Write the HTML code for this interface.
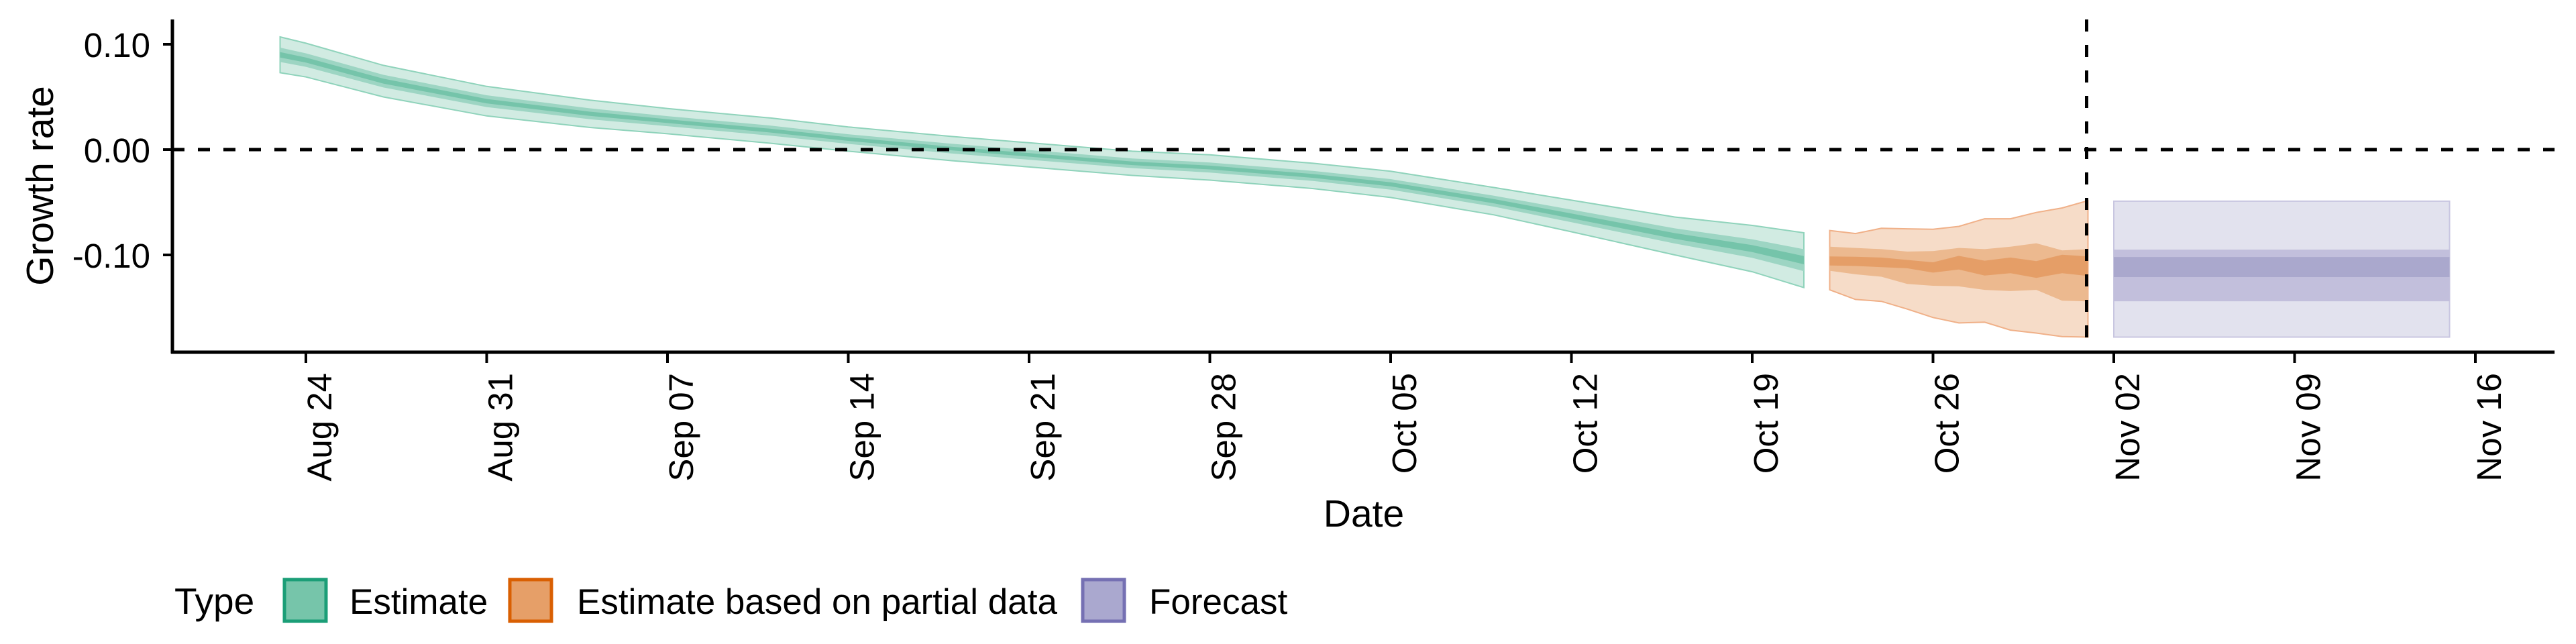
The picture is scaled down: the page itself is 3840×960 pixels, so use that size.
<!DOCTYPE html>
<html><head><meta charset="utf-8"><style>
html,body{margin:0;padding:0;background:#fff;}
svg{display:block;font-family:"Liberation Sans",sans-serif;}
</style></head><body>
<svg id="chart" width="3840" height="960" viewBox="0 0 3840 960" xmlns="http://www.w3.org/2000/svg">
<g id="bands"></g>
<g id="axes"></g>
<g>
  <text x="260" y="915" font-size="55">Type</text>
  <g>
    <rect x="424" y="864" width="62" height="62" fill="#76c5aa" stroke="#1b9e77" stroke-width="5"/>
    <text x="521" y="915" font-size="53">Estimate</text>
  </g>
  <g>
    <rect x="760" y="864" width="62" height="62" fill="#e69f68" stroke="#d95f02" stroke-width="5"/>
    <text x="860" y="915" font-size="53">Estimate based on partial data</text>
  </g>
  <g>
    <rect x="1614" y="864" width="62" height="62" fill="#aaa8cf" stroke="#7570b3" stroke-width="5"/>
    <text x="1713" y="915" font-size="53">Forecast</text>
  </g>
</g>
</svg>
<script>
// ---- data ----
const yTicks = [0.10, 0.00, -0.10];
const yTickLabels = ["0.10", "0.00", "-0.10"];
const xTickDays = [0,7,14,21,28,35,42,49,56,63,70,77,84];
const xTickLabels = ["Aug 24","Aug 31","Sep 07","Sep 14","Sep 21","Sep 28","Oct 05","Oct 12","Oct 19","Oct 26","Nov 02","Nov 09","Nov 16"];
// Estimate (days from Aug 24)
const estDays = [-1,0,3,7,11,14,18,21,25,28,32,35,39,42,46,49,53,56,58];
const estMedian = [0.090,0.085,0.065,0.046,0.034,0.027,0.018,0.010,0.001,-0.005,-0.013,-0.017,-0.025,-0.033,-0.049,-0.063,-0.082,-0.094,-0.105];
const estHalf90 = [0.017,0.016,0.015,0.014,0.013,0.012,0.012,0.0115,0.0115,0.0115,0.0115,0.012,0.012,0.0125,0.013,0.015,0.018,0.022,0.026];
const estHalf50 = [0.0068,0.0064,0.006,0.0056,0.0052,0.0048,0.0048,0.0046,0.0046,0.0046,0.0046,0.0048,0.0048,0.005,0.0052,0.006,0.0072,0.0088,0.0104];
const estHalf20 = [0.0026,0.0024,0.0023,0.0021,0.002,0.0018,0.0018,0.0017,0.0017,0.0017,0.0017,0.0018,0.0018,0.0019,0.002,0.0023,0.0027,0.0033,0.0039];
// Estimate based on partial data
const partDays = [59,60,61,62,63,64,65,66,67,68,69];
const partUpper90 = [-0.0768,-0.0797,-0.0747,-0.0752,-0.0757,-0.0729,-0.0657,-0.0657,-0.0597,-0.0554,-0.0485];
const partLower90 = [-0.1332,-0.1423,-0.1441,-0.1514,-0.1594,-0.1646,-0.1639,-0.1714,-0.1742,-0.1776,-0.1780];
const partUpper50 = [-0.0922,-0.0934,-0.0945,-0.0968,-0.0964,-0.0934,-0.0945,-0.0922,-0.0889,-0.0957,-0.0945];
const partLower50 = [-0.1150,-0.1184,-0.1207,-0.1275,-0.1293,-0.1298,-0.1332,-0.1343,-0.1332,-0.1435,-0.1441];
const partUpper20 = [-0.1014,-0.1018,-0.1025,-0.1048,-0.1070,-0.1009,-0.1055,-0.1025,-0.1059,-0.0998,-0.1014];
const partLower20 = [-0.1100,-0.1105,-0.1116,-0.1127,-0.1168,-0.1139,-0.1196,-0.1173,-0.1218,-0.1173,-0.1200];
// Forecast
const fcDays = [70,83];
const fcUpper90 = [-0.049,-0.049];
const fcLower90 = [-0.178,-0.178];
const fcUpper50 = [-0.095,-0.095];
const fcLower50 = [-0.144,-0.144];
const fcUpper20 = [-0.102,-0.102];
const fcLower20 = [-0.121,-0.121];
const forecastStartDay = 69;

// ---- scales ----
const X0 = 257, X1 = 3808, Y0 = 29, Y1 = 525;
function xs(d){ return 456 + d * 38.5; }
function ys(v){ return 223 - v * 1570; }
const NS = "http://www.w3.org/2000/svg";
function mk(tag, attrs, parent){
  const e = document.createElementNS(NS, tag);
  for (const k in attrs) e.setAttribute(k, attrs[k]);
  parent.appendChild(e); return e;
}
function band(days, lo, hi, fill, stroke, parent, name){
  let pts = [];
  for (let i=0;i<days.length;i++) pts.push(xs(days[i]).toFixed(1)+","+ys(hi[i]).toFixed(1));
  for (let i=days.length-1;i>=0;i--) pts.push(xs(days[i]).toFixed(1)+","+ys(lo[i]).toFixed(1));
  const p = mk("polygon", {points: pts.join(" "), fill: fill, stroke: stroke||"none", "stroke-width": stroke?2:0}, parent);
  
  
  return p;
}
const bands = document.getElementById("bands");
const axes = document.getElementById("axes");

const e90l = estMedian.map((m,i)=>m-estHalf90[i]), e90u = estMedian.map((m,i)=>m+estHalf90[i]);
const e50l = estMedian.map((m,i)=>m-estHalf50[i]), e50u = estMedian.map((m,i)=>m+estHalf50[i]);
const e20l = estMedian.map((m,i)=>m-estHalf20[i]), e20u = estMedian.map((m,i)=>m+estHalf20[i]);
band(estDays, e90l, e90u, "#d1ebe2", "#8fd3bb", bands, "estimate-band-90");
band(estDays, e50l, e50u, "#9dd5c3", null, bands, "estimate-band-50");
band(estDays, e20l, e20u, "#75c4aa", null, bands, "estimate-band-20");
band(partDays, partLower90, partUpper90, "#f6dcc8", "#f0b088", bands, "partial-band-90");
band(partDays, partLower50, partUpper50, "#ecb98f", null, bands, "partial-band-50");
band(partDays, partLower20, partUpper20, "#e59e67", null, bands, "partial-band-20");
band(fcDays, fcLower90, fcUpper90, "#e2e2ee", "#c8c6e0", bands, "forecast-band-90");
band(fcDays, fcLower50, fcUpper50, "#c2bfdc", null, bands, "forecast-band-50");
band(fcDays, fcLower20, fcUpper20, "#aaa8cd", null, bands, "forecast-band-20");

let l = mk("line", {x1:X0, x2:X1, y1:ys(0), y2:ys(0), stroke:"#000", "stroke-width":5, "stroke-dasharray":"18 20"}, axes);


l = mk("line", {x1:xs(forecastStartDay)-2, x2:xs(forecastStartDay)-2, y1:Y0, y2:Y1, stroke:"#000", "stroke-width":5, "stroke-dasharray":"18 20"}, axes);



l = mk("line", {x1:X0, x2:X0, y1:Y0, y2:Y1+2, stroke:"#000", "stroke-width":5}, axes);


l = mk("line", {x1:X0-2, x2:X1, y1:Y1, y2:Y1, stroke:"#000", "stroke-width":5}, axes);



yTicks.forEach((v,i)=>{
  const t = mk("line", {x1:X0-14, x2:X0, y1:ys(v), y2:ys(v), stroke:"#000", "stroke-width":4}, axes);
  
  
  const tx = mk("text", {x:224, y:ys(v)+19, "text-anchor":"end", "font-size":51}, axes);
  tx.textContent = yTickLabels[i];
  
  
});
xTickDays.forEach((d,i)=>{
  const x = xs(d);
  const t = mk("line", {x1:x, x2:x, y1:Y1, y2:Y1+16, stroke:"#000", "stroke-width":4}, axes);
  
  
  const tx = mk("text", {x:0, y:0, "text-anchor":"end", "font-size":51, transform:"translate("+(x+38)+",556) rotate(-90)"}, axes);
  tx.textContent = xTickLabels[i];
  
  
});
let tt = mk("text", {x:2033, y:785, "text-anchor":"middle", "font-size":57}, axes);
tt.textContent = "Date";


tt = mk("text", {x:0, y:0, "text-anchor":"middle", "font-size":57, transform:"translate(79,277) rotate(-90)"}, axes);
tt.textContent = "Growth rate";


</script>
</body></html>
